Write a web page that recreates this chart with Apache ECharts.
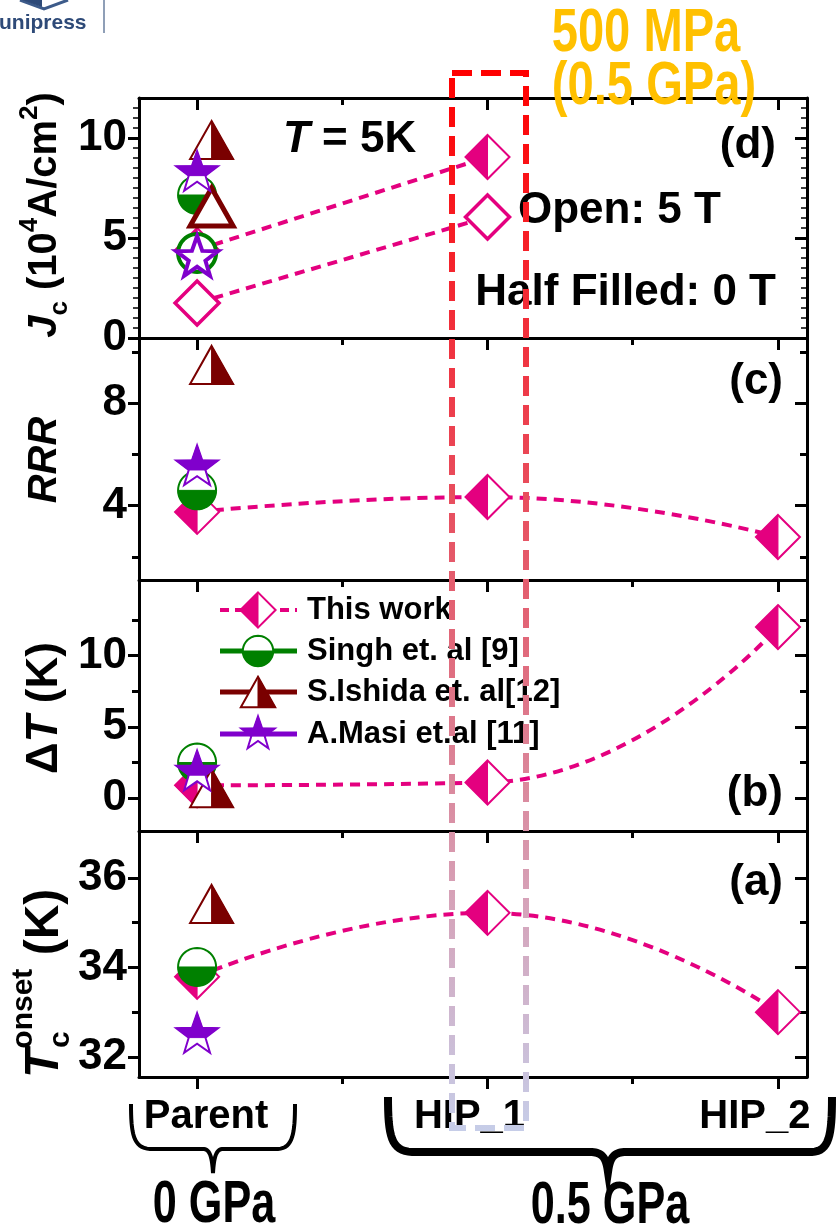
<!DOCTYPE html>
<html>
<head>
<meta charset="utf-8">
<script src="https://cdn.jsdelivr.net/npm/echarts@6.0.0/dist/echarts.min.js"></script>
<style>
html,body{margin:0;padding:0;background:#fff;}
#chart{width:836px;height:1229px;}
</style>
</head>
<body>
<div id="chart"></div>
<script>
// ---------------- data ----------------
const categories = ['Parent', 'HIP_1', 'HIP_2'];
const categoryX = [1, 2, 3];
const ishidaX = 1.05;
const groupLabels = ['0 GPa', '0.5 GPa'];
const pressureNote = ['500 MPa', '(0.5 GPa)'];
const seriesNames = ['This work', 'Singh et. al [9]', 'S.Ishida et. al[12]', 'A.Masi et.al [11]'];

// (a) Tc onset (K)
const thisWorkTc = [33.79, 35.22, 33.0];
const refTc = [34.01, 35.42, 32.49];      // Singh, Ishida, Masi (Parent)
// (b) Delta T (K)
const thisWorkDT = [0.9, 1.1, 12.0];
const refDT = [2.5, 0.7, 1.8];
// (c) RRR
const thisWorkRRR = [3.76, 4.34, 2.78];
const refRRR = [4.6, 9.5, 5.5];
// (d) Jc (10^4 A/cm^2), T = 5K ; half filled = 0 T, open = 5 T
const thisWorkJc0T = [4.4, 9.05];
const thisWorkJc5T = [1.75, 6.05];
const refJc0T = [7.15, 9.9, 8.25];
const refJc5T = [4.25, 6.55, 4.0];

// tick values
const tcTicks = [32, 34, 36], tcMinor = [33, 35];
const dtTicks = [0, 5, 10], dtMinor = [2.5, 7.5, 12.5];
const rrrTicks = [4, 8], rrrMinor = [2, 6, 10];
const jcTicks = [0, 5, 10];
const xMinor = [1.5, 2.5];

// ---------------- style ----------------
const FONT = "'Liberation Sans', Arial, Helvetica, sans-serif";
const PINK = '#e4007f', GREEN = '#008000', DRED = '#7a0000', PURPLE = '#8000cc';
const kinds = ['diamond', 'circle', 'triangle', 'star'];
const colors = [PINK, GREEN, DRED, PURPLE];

function shapePts(kind, cx, cy, s) {
  if (kind === 'diamond') { const h = 22 * s; return [[cx, cy - h], [cx + h, cy], [cx, cy + h], [cx - h, cy]]; }
  if (kind === 'circle') {
    const r = 19 * s, pts = [];
    for (let k = 0; k < 48; k++) { const a = k / 48 * 2 * Math.PI; pts.push([cx + r * Math.cos(a), cy + r * Math.sin(a)]); }
    return pts;
  }
  if (kind === 'triangle') { const w = 21.5 * s, h = 19 * s; return [[cx, cy - h], [cx + w, cy + h], [cx - w, cy + h]]; }
  const R = 22 * s, r = R * 0.4, pts = [];
  for (let k = 0; k < 10; k++) {
    const a = -Math.PI / 2 + k * Math.PI / 5, rr = k % 2 === 0 ? R : r;
    pts.push([cx + rr * Math.cos(a), cy + rr * Math.sin(a)]);
  }
  return pts;
}
function halfTest(kind, cx, cy, s) {
  if (kind === 'diamond') return p => cx - p[0];
  if (kind === 'circle') return p => p[1] - cy;
  if (kind === 'triangle') return p => p[0] - cx;
  return p => (cy + 0.12 * 22 * s) - p[1];
}
function clipPoly(pts, f) {
  const out = [];
  for (let i = 0; i < pts.length; i++) {
    const A = pts[i], B = pts[(i + 1) % pts.length];
    const fa = f(A), fb = f(B);
    if (fa >= 0) out.push(A);
    if ((fa >= 0) !== (fb >= 0)) {
      const t = fa / (fa - fb);
      out.push([A[0] + t * (B[0] - A[0]), A[1] + t * (B[1] - A[1])]);
    }
  }
  return out;
}
function markerEls(kind, mode, color, cx, cy, s, sw, z) {
  const pts = shapePts(kind, cx, cy, s);
  const els = [{ type: 'polygon', z: z, shape: { points: pts }, style: { fill: '#fff', stroke: color, lineWidth: sw, lineJoin: 'miter' } }];
  if (mode === 'half') {
    els.push({ type: 'polygon', z: z, shape: { points: clipPoly(pts, halfTest(kind, cx, cy, s)) }, style: { fill: color, stroke: color, lineWidth: 1 } });
  }
  return els;
}
function markerSeries(name, kind, mode, color, xi, yi, data, sw) {
  return {
    type: 'custom', name, xAxisIndex: xi, yAxisIndex: yi, data, encode: { x: 0, y: 1 }, silent: true, z: 3,
    renderItem: (params, api) => {
      const p = api.coord([api.value(0), api.value(1)]);
      return { type: 'group', children: markerEls(kind, mode, color, p[0], p[1], 1, sw) };
    }
  };
}
function lineSeries(name, xi, yi, data, smooth) {
  return {
    type: 'line', name, xAxisIndex: xi, yAxisIndex: yi, data, smooth: smooth ? 0.5 : false, symbol: 'none', silent: true, z: 2,
    lineStyle: { color: PINK, width: 4, type: [10, 7] }
  };
}

// ---------------- axes / grids ----------------
const grids = [], xAxis = [], yAxis = [], series = [];
const AXL = { color: '#000', width: 3 };
const TICKL = { color: '#000', width: 3 };
const LABEL = { fontFamily: FONT, fontWeight: 'bold', fontSize: 44, color: '#000' };
const XLAB = { fontFamily: FONT, fontWeight: 'bold', fontSize: 40, color: '#000' };

function addPanel(def) {
  const g = grids.length;
  grids.push({ left: 139, right: 29, top: def.top, height: def.height });
  const xi = xAxis.length;
  const xb = { type: 'value', gridIndex: g, min: 0.8, max: 3.1, splitLine: { show: false }, axisLabel: { show: false } };
  xAxis.push(Object.assign({}, xb, { position: 'top', axisLine: { show: true, onZero: false, lineStyle: AXL },
    axisTick: { show: true, inside: true, length: 12, lineStyle: TICKL, customValues: categoryX } }));
  xAxis.push(Object.assign({}, xb, { position: 'top', axisLine: { show: false, onZero: false },
    axisTick: { show: true, inside: true, length: 7, lineStyle: TICKL, customValues: xMinor } }));
  if (def.bottom) {
    xAxis.push(Object.assign({}, xb, { position: 'bottom', axisLine: { show: true, onZero: false, lineStyle: AXL },
      axisTick: { show: true, inside: false, length: 12, lineStyle: TICKL, customValues: categoryX },
      axisLabel: Object.assign({ show: true, customValues: categoryX, margin: 20,
        formatter: v => { const i = categoryX.indexOf(v); return i < 0 ? '' : '{c' + i + '|' + categories[i] + '}'; },
        rich: {
          c0: Object.assign({ padding: [0, 0, 0, 18] }, XLAB),
          c1: Object.assign({ padding: [0, 36, 0, 0] }, XLAB),
          c2: Object.assign({ padding: [0, 46, 0, 0] }, XLAB)
        } }, XLAB) }));
    xAxis.push(Object.assign({}, xb, { position: 'bottom', axisLine: { show: false, onZero: false },
      axisTick: { show: true, inside: false, length: 7, lineStyle: TICKL, customValues: xMinor } }));
  }
  const yi = yAxis.length;
  const yb = { type: 'value', gridIndex: g, min: def.min, max: def.max, splitLine: { show: false }, axisLabel: { show: false } };
  if (def.interval) yb.interval = def.interval;
  const dense = def.dense ? { show: true, splitNumber: 10, length: 6, lineStyle: { color: '#000', width: 1.5 } } : { show: false };
  yAxis.push(Object.assign({}, yb, { position: 'left', axisLine: { show: true, onZero: false, lineStyle: AXL },
    axisTick: { show: true, inside: false, length: 11, lineStyle: TICKL, customValues: def.major },
    minorTick: dense,
    axisLabel: Object.assign({ show: true, customValues: def.major, margin: 12 }, LABEL) }));
  yAxis.push(Object.assign({}, yb, { position: 'right', axisLine: { show: true, onZero: false, lineStyle: AXL },
    axisTick: { show: true, inside: true, length: 12, lineStyle: TICKL, customValues: def.major }, minorTick: dense }));
  if (def.minor) {
    yAxis.push(Object.assign({}, yb, { position: 'left', axisLine: { show: false, onZero: false },
      axisTick: { show: true, inside: false, length: 7, lineStyle: TICKL, customValues: def.minor } }));
    yAxis.push(Object.assign({}, yb, { position: 'right', axisLine: { show: false, onZero: false },
      axisTick: { show: true, inside: true, length: 7, lineStyle: TICKL, customValues: def.minor } }));
  }
  return { xi, yi };
}

const pd = addPanel({ top: 98, height: 240, min: 0, max: 12, interval: 5, major: jcTicks, dense: true });
const pc = addPanel({ top: 338, height: 242, min: 1.1, max: 10.55, major: rrrTicks, minor: rrrMinor });
const pb = addPanel({ top: 580, height: 251, min: -2.3, max: 15.3, major: dtTicks, minor: dtMinor });
const pa = addPanel({ top: 831, height: 246, min: 31.55, max: 37.05, major: tcTicks, minor: tcMinor, bottom: true });

const refX = [1, ishidaX, 1];
function addStandardPanel(p, thisWork, refs) {
  series.push(lineSeries(seriesNames[0], p.xi, p.yi, categoryX.map((x, i) => [x, thisWork[i]]), true));
  series.push(markerSeries(seriesNames[0], 'diamond', 'half', PINK, p.xi, p.yi, categoryX.map((x, i) => [x, thisWork[i]]), 2));
  for (let k = 0; k < 3; k++) {
    series.push(markerSeries(seriesNames[k + 1], kinds[k + 1], 'half', colors[k + 1], p.xi, p.yi, [[refX[k], refs[k]]], 2));
  }
}
addStandardPanel(pa, thisWorkTc, refTc);
addStandardPanel(pb, thisWorkDT, refDT);
addStandardPanel(pc, thisWorkRRR, refRRR);

// panel d
series.push(lineSeries('This work 0 T', pd.xi, pd.yi, thisWorkJc0T.map((v, i) => [categoryX[i], v]), false));
series.push(lineSeries('This work 5 T', pd.xi, pd.yi, thisWorkJc5T.map((v, i) => [categoryX[i], v]), false));
series.push(markerSeries('This work 5 T', 'diamond', 'open', PINK, pd.xi, pd.yi, thisWorkJc5T.map((v, i) => [categoryX[i], v]), 3.5));
series.push(markerSeries('This work 0 T', 'diamond', 'half', PINK, pd.xi, pd.yi, thisWorkJc0T.map((v, i) => [categoryX[i], v]), 2));
const openSw = [4, 5, 4];
for (let k = 0; k < 3; k++) {
  series.push(markerSeries(seriesNames[k + 1] + ' 5 T', kinds[k + 1], 'open', colors[k + 1], pd.xi, pd.yi, [[refX[k], refJc5T[k]]], openSw[k]));
  series.push(markerSeries(seriesNames[k + 1] + ' 0 T', kinds[k + 1], 'half', colors[k + 1], pd.xi, pd.yi, [[refX[k], refJc0T[k]]], 2));
}

// ---------------- graphic decorations ----------------
function txt(x, y, text, o) {
  o = o || {};
  return {
    type: 'text', x, y, z: o.z || 20, scaleX: o.scaleX || 1, rotation: o.rotation || 0, silent: true,
    style: {
      text, fill: o.color || '#000', fontFamily: o.family || FONT, fontSize: o.size || 44, fontWeight: o.weight || 'bold',
      fontStyle: o.fontStyle || 'normal', textAlign: o.align || 'left', align: o.align || 'left',
      textVerticalAlign: 'middle', verticalAlign: 'middle', rich: o.rich
    }
  };
}
function rs(size, extra) {
  return Object.assign({ fontFamily: FONT, fontWeight: 'bold', fontSize: size, fill: '#000', color: '#000' }, extra || {});
}
// sample a chain of segments: items are ['L', x, y] or ['C', x1, y1, x2, y2, x, y]
function pathPoints(start, segs) {
  const pts = [start.slice()];
  let cur = start.slice();
  segs.forEach(sg => {
    if (sg[0] === 'L') { cur = [sg[1], sg[2]]; pts.push(cur); }
    else {
      const p0 = cur, p1 = [sg[1], sg[2]], p2 = [sg[3], sg[4]], p3 = [sg[5], sg[6]];
      for (let i = 1; i <= 16; i++) {
        const t = i / 16, u = 1 - t;
        pts.push([u * u * u * p0[0] + 3 * u * u * t * p1[0] + 3 * u * t * t * p2[0] + t * t * t * p3[0],
                  u * u * u * p0[1] + 3 * u * u * t * p1[1] + 3 * u * t * t * p2[1] + t * t * t * p3[1]]);
      }
      cur = p3;
    }
  });
  return pts;
}
const G = [];
// logo
G.push(txt(-1, 23, 'unipress', { size: 21, color: '#2e4a78' }));
G.push({ type: 'polyline', z: 20, silent: true, shape: { points: [[20, 0], [44, 9], [68, 0]] }, style: { fill: null, stroke: '#3d5b8a', lineWidth: 3 } });
G.push({ type: 'polygon', z: 20, silent: true, shape: { points: [[22, 0], [42, 7], [42, 0]] }, style: { fill: '#2e4a78' } });
G.push({ type: 'line', z: 20, silent: true, shape: { x1: 104, y1: 0, x2: 104, y2: 33 }, style: { stroke: '#6a7f9f', lineWidth: 1.5 } });
// pressure note
G.push(txt(646, 34, pressureNote[0], { size: 62, color: '#FFC000', align: 'center', scaleX: 0.76 }));
G.push(txt(654, 87, pressureNote[1], { size: 62, color: '#FFC000', align: 'center', scaleX: 0.76 }));

// axis titles
const richTitle = {
  it: rs(40, { fontStyle: 'italic', lineHeight: 56 }),
  n: rs(40, { lineHeight: 56 }),
  sub: rs(26, { lineHeight: 24, verticalAlign: 'bottom' }),
  sup: rs(26, { lineHeight: 24, verticalAlign: 'top' })
};
G.push(txt(45, 215, '{it|J}{sub|c}{n| (10}{sup|4}{n|A/cm}{sup|2}{n|)}', { rotation: Math.PI / 2, align: 'center', rich: richTitle }));
G.push(txt(45, 460, '{it|RRR}', { rotation: Math.PI / 2, align: 'center', rich: richTitle }));
G.push(txt(45, 708, '{n|\u0394}{it|T}{n| (K)}', { rotation: Math.PI / 2, align: 'center', rich: {
  it: rs(44, { fontStyle: 'italic' }), n: rs(44) } }));
G.push({
  type: 'group', x: 45, y: 979, rotation: Math.PI / 2, silent: true,
  children: [
    txt(-99, 0, '{it|T}{sup|onset}{n| (K)}', { rich: {
      it: rs(48, { fontStyle: 'italic', lineHeight: 72 }),
      n: rs(48, { lineHeight: 72 }),
      sup: rs(30, { lineHeight: 26, verticalAlign: 'top' })
    } }),
    txt(-69, 16, 'c', { size: 30 })
  ]
});

// panel annotations
G.push(txt(283, 140, '{it|T}{n| = 5K}', { rich: { it: rs(44, { fontStyle: 'italic' }), n: rs(44) } }));
G.push(txt(776, 146, '(d)', { align: 'right' }));
G.push(txt(518, 211, 'Open: 5 T'));
G.push(txt(776, 293, 'Half Filled: 0 T', { align: 'right' }));
G.push(txt(783, 382, '(c)', { align: 'right' }));
G.push(txt(783, 794, '(b)', { align: 'right' }));
G.push(txt(783, 883, '(a)', { align: 'right' }));

// legend
const legendRows = [610, 651, 692, 734];
for (let k = 0; k < 4; k++) {
  const y = legendRows[k];
  G.push({ type: 'line', z: 30, silent: true, shape: { x1: 220, y1: y, x2: 297, y2: y },
    style: { stroke: colors[k], lineWidth: k === 0 ? 4 : 5, lineDash: k === 0 ? [9, 6] : null } });
  markerEls(kinds[k], 'half', colors[k], 258, y, 0.8, 2, 31).forEach(e => { e.silent = true; G.push(e); });
  G.push(txt(307, y, seriesNames[k], { size: 31, z: 32 }));
}

// braces and pressure group labels
G.push({ type: 'polyline', z: 20, silent: true, shape: { points: pathPoints([131, 1104], [
  ['C', 131, 1133, 133, 1148, 150, 1149], ['L', 204, 1149], ['C', 210, 1150, 212, 1157, 213, 1173],
  ['C', 214, 1157, 216, 1150, 222, 1149], ['L', 278, 1149], ['C', 293, 1148, 295, 1133, 295, 1104]]) },
  style: { fill: null, stroke: '#000', lineWidth: 4 } });
G.push({ type: 'polyline', z: 20, silent: true, shape: { points: pathPoints([388, 1097], [
  ['C', 388, 1136, 391, 1151, 412, 1152], ['L', 592, 1152], ['C', 602, 1153, 606, 1157, 608, 1172],
  ['C', 610, 1157, 614, 1153, 624, 1152], ['L', 812, 1152], ['C', 829, 1151, 832, 1136, 832, 1097]]) },
  style: { fill: null, stroke: '#000', lineWidth: 8 } });
G.push(txt(214, 1205, groupLabels[0], { size: 60, align: 'center', scaleX: 0.72 }));
G.push(txt(610, 1206, groupLabels[1], { size: 60, align: 'center', scaleX: 0.72 }));

// red dashed highlight box
G.push({ type: 'rect', z: 100, silent: true, shape: { x: 452, y: 73, width: 74, height: 1055 },
  style: { fill: null, lineWidth: 6, lineDash: [20, 9],
    stroke: new echarts.graphic.LinearGradient(0, 0, 0, 1, [
      { offset: 0, color: '#ff0000' }, { offset: 0.3, color: '#ee3a48' }, { offset: 0.55, color: '#e06a7c' },
      { offset: 0.78, color: '#d6a2b8' }, { offset: 1, color: '#c6cde8' }]) } });

const chart = echarts.init(document.getElementById('chart'), null, { renderer: 'canvas' });
chart.setOption({
  animation: false,
  backgroundColor: '#fff',
  grid: grids, xAxis, yAxis, series,
  graphic: { elements: G }
});
</script>
</body>
</html>
